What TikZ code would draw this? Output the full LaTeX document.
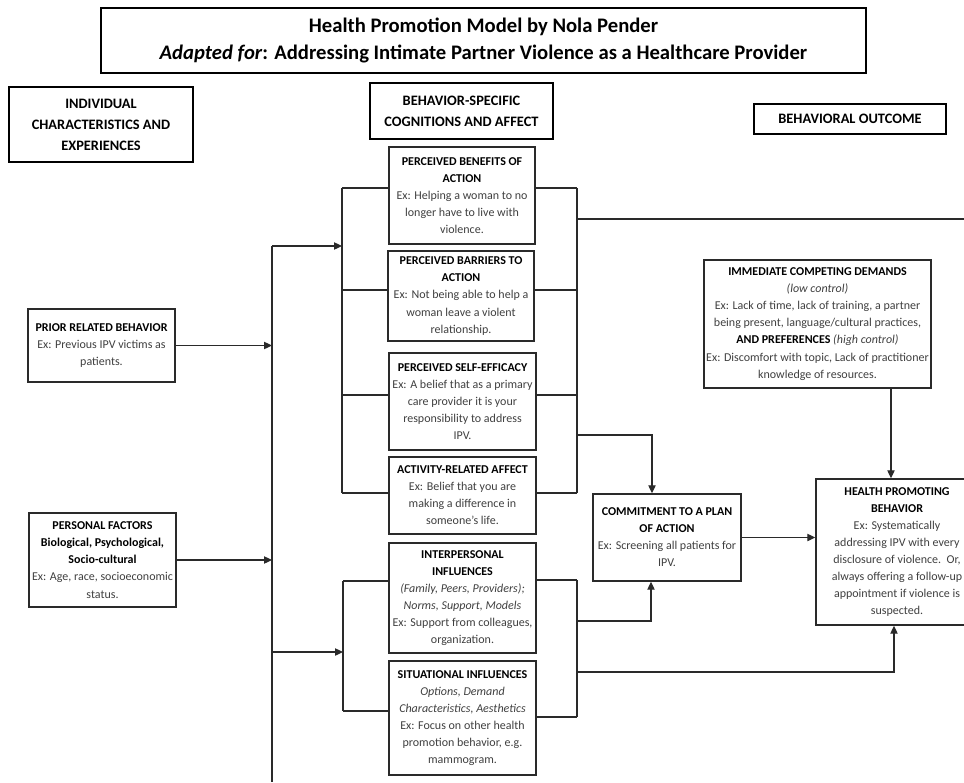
\documentclass[tikz,border=0pt]{standalone}
\usepackage{fontspec}
\setmainfont{Carlito}
\usetikzlibrary{arrows.meta,calc}
\definecolor{txtg}{HTML}{404040}
\definecolor{lineg}{HTML}{2A2A2A}
\newcommand\myhd[1]{\textcolor{black}{\bfseries #1}}
\tikzset{
  cbox/.style={draw=lineg, line width=1.1pt, fill=white, align=center, inner sep=0pt,
     text=txtg, font=\fontsize{9}{12.8}\selectfont},
  hbox/.style={draw=black, line width=1.6pt, fill=white, align=center, inner sep=0pt,
     font=\fontsize{10.8}{15.8}\selectfont\bfseries},
  conn/.style={draw=lineg, line width=0.9pt},
  arr/.style={conn, -{Triangle[length=6pt,width=5.5pt]}}
}
\begin{document}
\begin{tikzpicture}[x=0.75pt,y=-0.75pt]
\useasboundingbox (0,0) rectangle (964,782);
\clip (0,0) rectangle (964,782);
\fill[white] (0,0) rectangle (964,782);

% headers
\node[hbox, line width=2pt, minimum width=573.75pt, minimum height=48.75pt,
      font=\fontsize{15.5}{20.3}\selectfont\bfseries] (title) at (483.5,40.5)
  {Health Promotion Model by Nola Pender\\\textit{Adapted for}: Addressing Intimate Partner Violence as a Healthcare Provider};
\node[hbox, minimum width=138pt, minimum height=56.25pt] (indiv) at (101,124.5)
  {INDIVIDUAL\\CHARACTERISTICS AND\\EXPERIENCES};
\node[hbox, minimum width=137.25pt, minimum height=42pt] (bsc) at (461.5,111)
  {BEHAVIOR-SPECIFIC\\COGNITIONS AND AFFECT};
\node[hbox, minimum width=144pt, minimum height=22.5pt] (bout) at (850,119)
  {BEHAVIORAL OUTCOME};

% content boxes
\node[cbox, minimum width=109.5pt, minimum height=72.75pt] (ben) at (462,195.5)
  {\myhd{PERCEIVED BENEFITS OF}\\\myhd{ACTION}\\Ex: Helping a woman to no\\longer have to live with\\violence.};
\node[cbox, minimum width=109.5pt, minimum height=67.5pt] (bar) at (461,296)
  {\myhd{PERCEIVED BARRIERS TO}\\\myhd{ACTION}\\Ex: Not being able to help a\\woman leave a violent\\relationship.};
\node[cbox, minimum width=110.25pt, minimum height=72.75pt] (se) at (462.5,401.5)
  {\myhd{PERCEIVED SELF-EFFICACY}\\Ex: A belief that as a primary\\care provider it is your\\responsibility to address\\IPV.};
\node[cbox, minimum width=110.25pt, minimum height=57.75pt] (aff) at (462.5,495.5)
  {\myhd{ACTIVITY-RELATED AFFECT}\\Ex: Belief that you are\\making a difference in\\someone’s life.};
\node[cbox, minimum width=110.25pt, minimum height=82.5pt] (inter) at (462.5,598)
  {\myhd{INTERPERSONAL}\\\myhd{INFLUENCES}\\\textit{(Family, Peers, Providers);}\\\textit{Norms, Support, Models}\\Ex: Support from colleagues,\\organization.};
\node[cbox, minimum width=110.25pt, minimum height=85.5pt] (sit) at (462.5,718)
  {\myhd{SITUATIONAL INFLUENCES}\\\textit{Options, Demand}\\\textit{Characteristics, Aesthetics}\\Ex: Focus on other health\\promotion behavior, e.g.\\mammogram.};
\node[cbox, minimum width=110.25pt, minimum height=54.75pt] (prior) at (101.5,345.5)
  {\myhd{PRIOR RELATED BEHAVIOR}\\Ex: Previous IPV victims as\\patients.};
\node[cbox, minimum width=110.25pt, minimum height=70.5pt] (pers) at (102.5,560)
  {\myhd{PERSONAL FACTORS}\\\myhd{Biological, Psychological,}\\\myhd{Socio-cultural}\\Ex: Age, race, socioeconomic\\status.};
\node[cbox, minimum width=170.25pt, minimum height=96pt] (icd) at (817.5,324)
  {\myhd{IMMEDIATE COMPETING DEMANDS}\\\textit{(low control)}\\Ex: Lack of time, lack of training, a partner\\being present, language/cultural practices,\\\myhd{AND PREFERENCES} \textit{(high control)}\\Ex: Discomfort with topic, Lack of practitioner\\knowledge of resources.};
\node[cbox, minimum width=111pt, minimum height=65.25pt] (com) at (667,537.5)
  {\myhd{COMMITMENT TO A PLAN}\\\myhd{OF ACTION}\\Ex: Screening all patients for\\IPV.};
\node[cbox, minimum width=121.5pt, minimum height=109.5pt] (hpb) at (897,552)
  {\myhd{HEALTH PROMOTING}\\\myhd{BEHAVIOR}\\Ex: Systematically\\addressing IPV with every\\disclosure of violence.\ \ Or,\\always offering a follow-up\\appointment if violence is\\suspected.};

% coordinates for connector routing
\coordinate (sptop) at (272,246);
\coordinate (spbot) at (272,782);
\coordinate (sp2) at (272,652);
\coordinate (L1a) at (342,188);
\coordinate (L1b) at (342,290);
\coordinate (L1c) at (342,395);
\coordinate (L1d) at (342,493);
\coordinate (R1a) at (577,188);
\coordinate (R1b) at (577,290);
\coordinate (R1c) at (577,395);
\coordinate (R1d) at (577,493);
\coordinate (R1e) at (577,219);
\coordinate (R1f) at (577,435);
\coordinate (offR) at (964,219);
\coordinate (C1) at (652,435);
\coordinate (L2a) at (343,581);
\coordinate (L2b) at (343,711);
\coordinate (R2a) at (577,580);
\coordinate (R2b) at (577,717);
\coordinate (R2c) at (577,621);
\coordinate (R2d) at (577,672);
\coordinate (C2) at (651,621);
\coordinate (C3) at (894,672);
\coordinate (D1) at (891,0);

% spine
\draw[conn] (sptop) -- (spbot);
\draw[arr] (sptop) -- (sptop -| L1a);
\draw[arr] (prior.east) -- (prior.east -| sptop);
\draw[arr] (pers.east) -- (pers.east -| sptop);
\draw[arr] (sp2) -- (sp2 -| L2a);

% left bracket 1
\draw[conn] (L1a) -- (L1d);
\draw[conn] (L1a) -- (L1a -| ben.west);
\draw[conn] (L1b) -- (L1b -| bar.west);
\draw[conn] (L1c) -- (L1c -| se.west);
\draw[conn] (L1d) -- (L1d -| aff.west);
% right bracket 1
\draw[conn] (R1a) -- (R1d);
\draw[conn] (R1a) -- (R1a -| ben.east);
\draw[conn] (R1b) -- (R1b -| bar.east);
\draw[conn] (R1c) -- (R1c -| se.east);
\draw[conn] (R1d) -- (R1d -| aff.east);
\draw[conn] (R1e) -- (offR);
\draw[arr] (R1f) -- (C1) -- (C1 |- com.north);

% brackets 2
\draw[conn] (L2a) -- (L2b);
\draw[conn] (L2a) -- (L2a -| inter.west);
\draw[conn] (L2b) -- (L2b -| sit.west);
\draw[conn] (R2a) -- (R2b);
\draw[conn] (R2a) -- (R2a -| inter.east);
\draw[conn] (R2b) -- (R2b -| sit.east);
\draw[arr] (R2c) -- (C2) -- (C2 |- com.south);
\draw[arr] (R2d) -- (C3) -- (C3 |- hpb.south);

% outcome connectors
\draw[arr] (D1 |- icd.south) -- (D1 |- hpb.north);
\draw[arr] (com.east) -- (com.east -| hpb.west);
\end{tikzpicture}
\end{document}
